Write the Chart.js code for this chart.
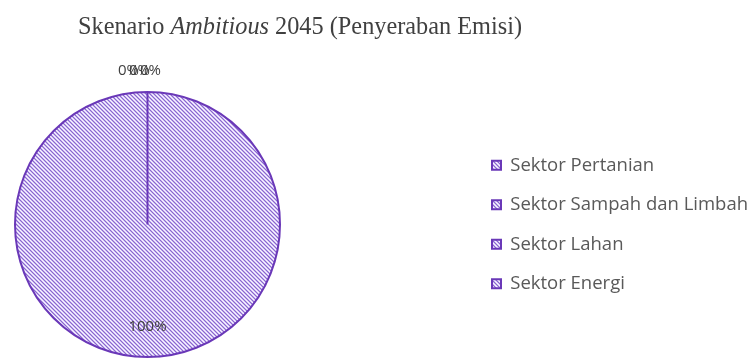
<!DOCTYPE html>
<html>
<head>
<meta charset="utf-8">
<script src="https://cdn.jsdelivr.net/npm/chart.js@4"></script>
<style>
    body { margin: 0; background: #fff; }
    #wrap { position: relative; width: 756px; height: 358px; }
    #title {
        position: absolute; left: 78px; top: 12px;
        font: 24.3px "Liberation Serif", "Times New Roman", serif;
        color: #404040; white-space: nowrap;
    }
</style>
</head>
<body>
<div id="wrap">
    <div id="title">Skenario <i>Ambitious</i> 2045 (Penyeraban Emisi)</div>
    <canvas id="myChart" width="756" height="358"></canvas>
</div>
<script>
const sectors = ['Sektor Pertanian', 'Sektor Sampah dan Limbah', 'Sektor Lahan', 'Sektor Energi'];
const shares = [0, 0, 100, 0];

const canvas = document.getElementById('myChart');
const ctx = canvas.getContext('2d');

// purple "wide downward diagonal" fill like the office chart
function hatch() {
    const c = document.createElement('canvas');
    c.width = 4;
    c.height = 4;
    const g = c.getContext('2d');
    const img = g.createImageData(4, 4);
    const cols = [[138, 104, 204], [204, 186, 242], [250, 248, 255], [204, 186, 242]];
    for (let y = 0; y < 4; y++) {
        for (let x = 0; x < 4; x++) {
            const k = ((x - y) % 4 + 4) % 4;
            img.data.set([...cols[k], 255], (y * 4 + x) * 4);
        }
    }
    g.putImageData(img, 0, 0);
    return ctx.createPattern(c, 'repeat');
}
const fill = hatch();

const pieLabels = {
    id: 'pieLabels',
    afterDatasetsDraw(chart) {
        const c = chart.ctx;
        const meta = chart.getDatasetMeta(0);
        c.save();
        c.font = '15px "Open Sans"';
        c.fillStyle = '#404040';
        c.textAlign = 'center';
        c.textBaseline = 'middle';
        let k = 0;
        meta.data.forEach((arc, i) => {
            const p = arc.getProps(['x', 'y', 'startAngle', 'endAngle', 'outerRadius'], true);
            const mid = (p.startAngle + p.endAngle) / 2;
            const text = shares[i] + '%';
            if (shares[i] === 0) {
                const r = p.outerRadius + 21;
                c.fillText(text, p.x + Math.cos(mid) * r + k * 11 - 19, p.y + Math.sin(mid) * r);
                k++;
            } else {
                const r = p.outerRadius * 0.77;
                c.fillText(text, p.x + Math.cos(mid) * r, p.y + Math.sin(mid) * r);
            }
        });
        c.restore();
    }
};

// keep the pie on the left and the legend far right
const placeLegend = {
    id: 'placeLegend',
    afterLayout(chart) {
        const a = chart.chartArea;
        a.right = a.left + a.height;
        a.width = a.height;
        chart.legend.left = 471;
        chart.legend.right = 471 + chart.legend.width;
    }
};

let chart = new Chart(ctx, {
    type: 'pie',
    data: {
        labels: sectors,
        datasets: [{
            data: shares,
            backgroundColor: fill,
            borderColor: '#6a38b8',
            borderWidth: 2
        }]
    },
    options: {
        responsive: false,
        animation: false,
        layout: { padding: { left: 14, top: 91, right: 0, bottom: 0 } },
        plugins: {
            legend: {
                position: 'right',
                align: 'center',
                labels: {
                    boxWidth: 9,
                    boxHeight: 9,
                    padding: 21,
                    color: '#595959',
                    font: { family: 'Open Sans', size: 18.5 }
                }
            },
            tooltip: { enabled: false }
        }
    },
    plugins: [pieLabels, placeLegend]
});
</script>
</body>
</html>
